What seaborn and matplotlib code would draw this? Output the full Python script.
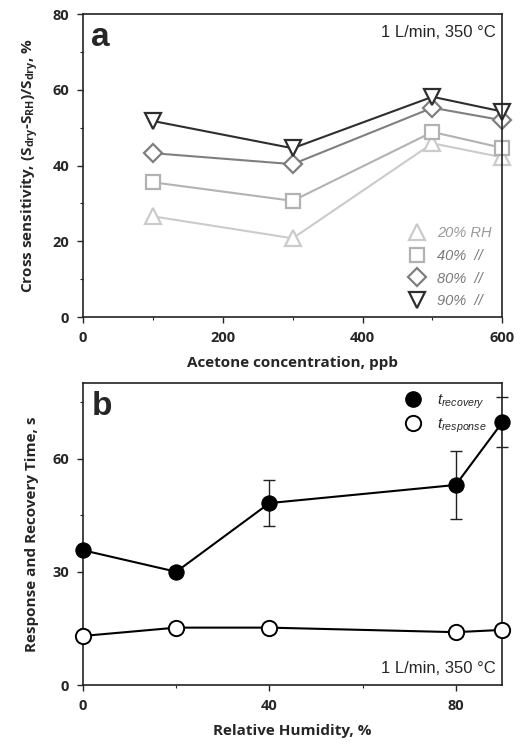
import numpy as np
import pandas as pd
import matplotlib
matplotlib.use("Agg")
import matplotlib.pyplot as plt
from matplotlib.lines import Line2D
from matplotlib.ticker import MultipleLocator
import seaborn as sns

# panel a data: cross sensitivity vs acetone concentration
acetone_ppb = [100, 300, 500, 600]
rh_labels = ["20% RH", "40%  //", "80%  //", "90%  //"]
cs_20 = [26.6, 20.8, 45.9, 42.2]
cs_40 = [35.6, 30.7, 48.9, 44.7]
cs_80 = [43.3, 40.4, 55.3, 52.0]
cs_90 = [51.8, 44.6, 58.2, 54.3]

# panel b data: response / recovery time vs relative humidity
rh_pct = [0, 20, 40, 80, 90]
t_recovery = [35.7, 30.0, 48.2, 53.0, 69.6]
t_recovery_err = [0.8, 1.2, 6.0, 9.0, 6.6]
t_response = [13.0, 15.2, 15.2, 14.0, 14.6]

sns.set_theme(style="ticks")
plt.rcParams["font.family"] = ["Open Sans", "DejaVu Sans"]
plt.rcParams["mathtext.fontset"] = "custom"
plt.rcParams["mathtext.bf"] = "Open Sans:bold"
plt.rcParams["mathtext.it"] = "Liberation Sans:italic"
plt.rcParams["mathtext.rm"] = "Open Sans:bold"

fig = plt.figure(figsize=(5.26, 7.53), dpi=100)
ax1 = fig.add_axes([0.158, 0.579, 0.797, 0.402])
ax2 = fig.add_axes([0.158, 0.0903, 0.797, 0.401])

# ---- panel a
series = [cs_20, cs_40, cs_80, cs_90]
colors = ["#cbcbcb", "#b2b2b2", "#7f7f7f", "#2e2e2e"]
markers = ["^", "s", "D", "v"]
msizes = [11, 10, 9, 11]
df_a = pd.concat([pd.DataFrame({"ppb": acetone_ppb, "cs": s, "rh": lab})
                  for s, lab in zip(series, rh_labels)])
for lab, c, m, ms in zip(rh_labels, colors, markers, msizes):
    sub = df_a[df_a["rh"] == lab]
    sns.lineplot(data=sub, x="ppb", y="cs", ax=ax1, color=c, marker=m,
                 markersize=ms, mfc="white", mec=c, mew=1.6, lw=1.5)
for ln in ax1.lines:
    ln.set_clip_on(False)

ax1.set_xlim(0, 600)
ax1.set_ylim(0, 80)
ax1.xaxis.set_major_locator(MultipleLocator(200))
ax1.xaxis.set_minor_locator(MultipleLocator(100))
ax1.yaxis.set_major_locator(MultipleLocator(20))
ax1.yaxis.set_minor_locator(MultipleLocator(10))
ax1.set_xlabel("Acetone concentration, ppb", fontsize=11, fontweight="bold", labelpad=8)
ax1.set_ylabel(r"Cross sensitivity, (S$_{\mathbf{dry}}$-S$_{\mathbf{RH}}$)/S$_{\mathbf{dry}}$, %",
               fontsize=11, fontweight="bold", labelpad=8)
ax1.text(0.02, 0.975, "a", transform=ax1.transAxes, fontsize=24, fontweight="bold",
         va="top", ha="left", family="Liberation Sans")
ax1.text(0.985, 0.965, "1 L/min, 350 °C", transform=ax1.transAxes, fontsize=12,
         va="top", ha="right", family="Liberation Sans")

handles = [Line2D([], [], ls="none", marker=m, ms=ms, mfc="white", mec=c, mew=1.6)
           for c, m, ms in zip(colors, markers, msizes)]
leg = ax1.legend(handles, rh_labels, loc="lower right", frameon=False,
                 prop={"family": "Liberation Sans", "style": "italic", "size": 10.5},
                 handletextpad=0.6, handlelength=1.6, labelspacing=0.6,
                 borderaxespad=0.3, bbox_to_anchor=(1.0, -0.005))
for t, c in zip(leg.get_texts(), ["#9a9a9a", "#7a7a7a", "#7a7a7a", "#7a7a7a"]):
    t.set_color(c)

# ---- panel b
df_b = pd.DataFrame({"rh": rh_pct, "rec": t_recovery, "err": t_recovery_err,
                     "resp": t_response})
ax2.errorbar(df_b["rh"], df_b["rec"], yerr=df_b["err"], fmt="none",
             ecolor="#222222", elinewidth=1.0, capsize=4, capthick=1.0, zorder=2)
sns.lineplot(data=df_b, x="rh", y="rec", ax=ax2, color="black", marker="o",
             markersize=11, mfc="black", mec="black", lw=1.5, zorder=3)
sns.lineplot(data=df_b, x="rh", y="resp", ax=ax2, color="black", marker="o",
             markersize=11, mfc="white", mec="black", mew=1.4, lw=1.5, zorder=3)
for ln in ax2.lines:
    ln.set_clip_on(False)

ax2.set_xlim(0, 90)
ax2.set_ylim(0, 80)
ax2.xaxis.set_major_locator(MultipleLocator(40))
ax2.xaxis.set_minor_locator(MultipleLocator(20))
ax2.yaxis.set_major_locator(MultipleLocator(30))
ax2.yaxis.set_minor_locator(MultipleLocator(15))
ax2.set_xlabel("Relative Humidity, %", fontsize=11, fontweight="bold", labelpad=8)
ax2.set_ylabel("Response and Recovery Time, s", fontsize=11, fontweight="bold", labelpad=10)
ax2.text(0.02, 0.975, "b", transform=ax2.transAxes, fontsize=24, fontweight="bold",
         va="top", ha="left", family="Liberation Sans")
ax2.text(0.985, 0.03, "1 L/min, 350 °C", transform=ax2.transAxes, fontsize=12,
         va="bottom", ha="right", family="Liberation Sans")

handles_b = [Line2D([], [], ls="none", marker="o", ms=11, mfc="black", mec="black"),
             Line2D([], [], ls="none", marker="o", ms=11, mfc="white", mec="black", mew=1.4)]
ax2.legend(handles_b, [r"$\mathit{t}_{\mathit{recovery}}$", r"$\mathit{t}_{\mathit{response}}$"],
           loc="upper right", frameon=False, fontsize=11, handletextpad=0.6,
           labelspacing=0.4, borderaxespad=0.2, bbox_to_anchor=(0.985, 1.0))

for ax in (ax1, ax2):
    for sp in ax.spines.values():
        sp.set_linewidth(1.2)
        sp.set_color("#222222")
    ax.tick_params(which="major", direction="out", length=4, width=1.0,
                   labelsize=10.5, pad=6)
    ax.tick_params(which="minor", direction="out", length=2.5, width=0.8)
    for lab in ax.get_xticklabels() + ax.get_yticklabels():
        lab.set_fontweight("bold")

fig.savefig("out.png", dpi=100)
